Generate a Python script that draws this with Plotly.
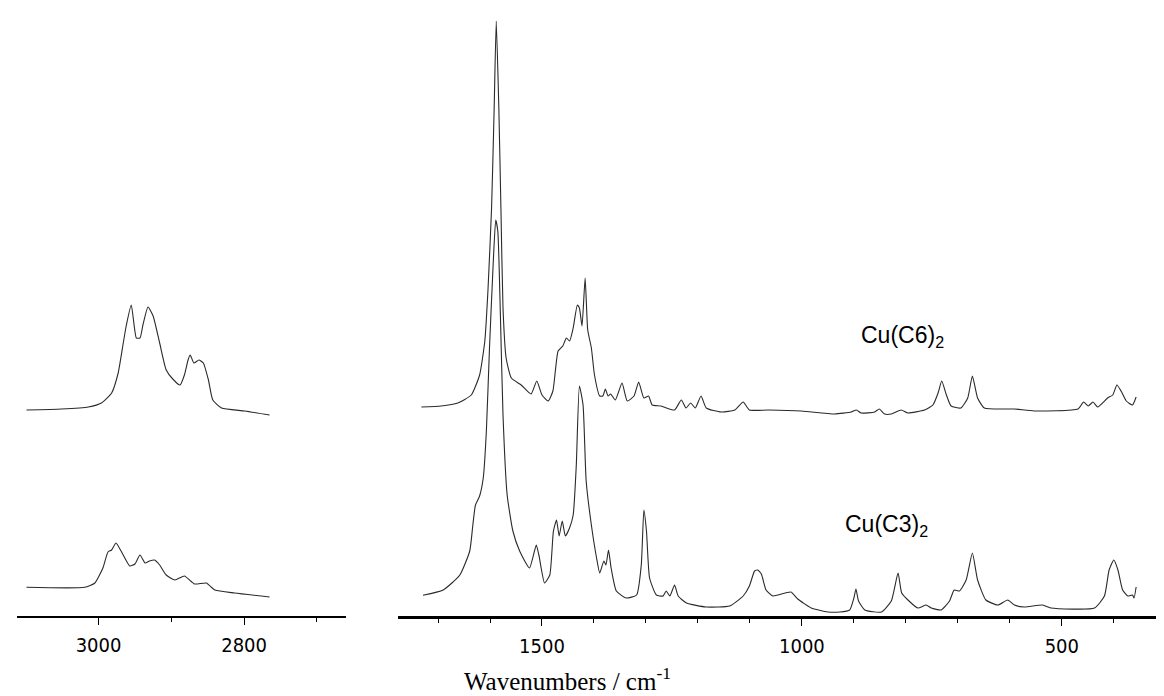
import plotly.graph_objects as go

# ---------------- data ----------------
# C-H stretching region (left panel), wavenumber / cm-1 and intensity (a.u.)
ch_wn_c6 = [3099, 3051, 3014, 2996, 2982, 2973, 2966, 2962, 2955, 2948, 2943, 2939, 2932, 2925,
            2916, 2907, 2898, 2888, 2882, 2877, 2874, 2869, 2862, 2856, 2849, 2843, 2831, 2799, 2765]
ch_int_c6 = [206, 207, 209, 213, 223, 243, 273, 290, 311, 278, 278, 291, 309, 300,
             273, 246, 237, 231, 241, 256, 261, 253, 256, 253, 236, 216, 208, 205, 201]

ch_wn_c3 = [3099, 3019, 3005, 2994, 2987, 2982, 2976, 2969, 2957, 2950, 2943, 2936, 2930, 2923,
            2916, 2907, 2895, 2882, 2868, 2852, 2840, 2813, 2765]
ch_int_c3 = [28.7, 28.7, 33, 48, 64, 66, 73, 65, 50, 52, 61, 53, 55, 56,
             51, 41, 36, 40, 32, 33, 26, 23, 19]

# Fingerprint region (right panel)
fp_wn_c6 = [1732, 1694, 1662, 1636, 1620, 1610, 1604, 1597, 1592, 1588, 1583, 1579, 1575, 1569,
            1559, 1540, 1521, 1510, 1500, 1488, 1479, 1469, 1460, 1453, 1447, 1440, 1432, 1428,
            1423, 1417, 1412, 1405, 1399, 1389, 1383, 1378, 1373, 1368, 1359, 1346, 1336, 1323,
            1314, 1304, 1295, 1288, 1271, 1245, 1232, 1223, 1214, 1205, 1194, 1184, 1155, 1129,
            1113, 1101, 1065, 1001, 937, 905, 895, 886, 860, 851, 841, 828, 809, 796, 764, 748,
            738, 731, 722, 713, 694, 681, 672, 662, 649, 591, 553, 469, 458, 449, 440, 431, 412,
            402, 394, 386, 376, 364, 357]
fp_int_c6 = [209, 210, 213, 221, 241, 275, 325, 408, 508, 595, 508, 408, 308, 258,
             238, 231, 222, 235, 221, 215, 225, 265, 270, 278, 275, 288, 311, 308,
             290, 338, 286, 268, 241, 220, 220, 227, 220, 222, 216, 233, 215, 220,
             234, 218, 220, 211, 210, 206, 216, 208, 213, 208, 220, 208, 204, 206,
             214, 206, 206, 205, 202, 204, 206, 203, 204, 207, 202, 202, 206, 203, 206, 211,
             223, 235, 221, 210, 208, 218, 240, 218, 208, 207, 205, 207, 214, 210, 214, 209, 218,
             221, 231, 225, 215, 211, 219]

fp_wn_c3 = [1729, 1690, 1658, 1639, 1633, 1628, 1620, 1613, 1607, 1601, 1594, 1589, 1585, 1580,
            1575, 1567, 1556, 1543, 1524, 1511, 1506, 1495, 1485, 1478, 1472, 1467, 1461, 1455,
            1447, 1440, 1434, 1428, 1421, 1415, 1405, 1395, 1389, 1381, 1377, 1372, 1367, 1357,
            1338, 1318, 1309, 1304, 1299, 1293, 1280, 1267, 1261, 1254, 1245, 1238, 1222, 1184,
            1139, 1113, 1101, 1091, 1085, 1078, 1069, 1056, 1046, 1021, 1008, 982, 950, 927,
            908, 900, 896, 891, 879, 847, 828, 815, 808, 796, 777, 761, 751, 732, 716, 707, 697,
            684, 672, 662, 646, 623, 604, 591, 572, 537, 521, 437, 418, 409, 400, 392, 383, 373,
            364, 361, 357]
fp_int_c3 = [20.7, 26, 41, 65, 91, 111, 120, 138, 185, 268, 351, 396, 385, 301,
             201, 121, 85, 65, 48, 71, 61, 33, 41, 85, 96, 80, 95, 80,
             88, 101, 151, 230, 211, 135, 91, 58, 43, 55, 51, 66, 48, 25,
             18, 21, 51, 106, 85, 38, 21, 20, 25, 20, 31, 20, 13, 9,
             10, 20, 30, 45, 46, 42, 26, 20, 21, 24, 17, 8, 4, 4,
             6, 18, 27, 15, 6, 4, 15, 43, 23, 16, 8, 11, 8, 6, 15, 26, 25,
             36, 63, 36, 16, 11, 16, 11, 9, 11, 8, 8, 20, 46, 56, 46, 26, 20,
             21, 18, 29]

left_ticks = [3000, 2800]
left_minor = [2900, 2700]
right_ticks = [1500, 1000, 500]
right_minor = [1700, 1600, 1400, 1300, 1200, 1100, 900, 800, 700, 600, 400, 300]

label_c6 = "Cu(C6)<sub>2</sub>"
label_c3 = "Cu(C3)<sub>2</sub>"
axis_title = "Wavenumbers / cm<sup>-1</sup>"

# ---------------- figure ----------------
line = dict(color="#2a2a2a", width=1.1, shape="spline", smoothing=0.5)

fig = go.Figure()
fig.add_trace(go.Scatter(x=ch_wn_c6, y=ch_int_c6, mode="lines", line=line, xaxis="x", yaxis="y"))
fig.add_trace(go.Scatter(x=ch_wn_c3, y=ch_int_c3, mode="lines", line=line, xaxis="x", yaxis="y"))
fig.add_trace(go.Scatter(x=fp_wn_c6, y=fp_int_c6, mode="lines", line=line, xaxis="x2", yaxis="y"))
fig.add_trace(go.Scatter(x=fp_wn_c3, y=fp_int_c3, mode="lines", line=line, xaxis="x2", yaxis="y"))

tickfont = dict(family="Liberation Sans Narrow, DejaVu Sans Condensed, Liberation Sans, Arial",
                size=20, color="black")
common_x = dict(showline=True, linecolor="black", ticks="outside", tickcolor="black",
                ticklen=7, tickwidth=1, showgrid=False, zeroline=False, tickfont=tickfont,
                ticklabelstandoff=3, anchor="y")

fig.update_layout(
    width=1164, height=696,
    margin=dict(l=0, r=0, t=0, b=88),
    paper_bgcolor="white", plot_bgcolor="white",
    showlegend=False,
    xaxis=dict(domain=[9 / 1164, 338 / 1164], range=[3112, 2660], tickvals=left_ticks,
               linewidth=1.6,
               minor=dict(tickvals=left_minor, ticks="outside", ticklen=4, tickcolor="black"),
               **common_x),
    xaxis2=dict(domain=[390 / 1164, 1.0], range=[1777, 288], tickvals=right_ticks,
                linewidth=2.6,
                minor=dict(tickvals=right_minor, ticks="outside", ticklen=4, tickcolor="black"),
                **common_x),
    yaxis=dict(range=[0, 608], visible=False, fixedrange=True),
)

labfont = dict(family="Liberation Sans, Arial", size=23, color="black")
fig.add_annotation(x=890, y=280, xref="x2", yref="y", text=label_c6, showarrow=False,
                   xanchor="left", yanchor="middle", font=labfont)
fig.add_annotation(x=920, y=91, xref="x2", yref="y", text=label_c3, showarrow=False,
                   xanchor="left", yanchor="middle", font=labfont)
fig.add_annotation(x=559 / 1164, y=-63 / 608, xref="paper", yref="paper", text=axis_title,
                   showarrow=False, xanchor="center", yanchor="middle",
                   font=dict(family="Liberation Serif, Times New Roman", size=25, color="black"))

fig.write_html("out.html")
